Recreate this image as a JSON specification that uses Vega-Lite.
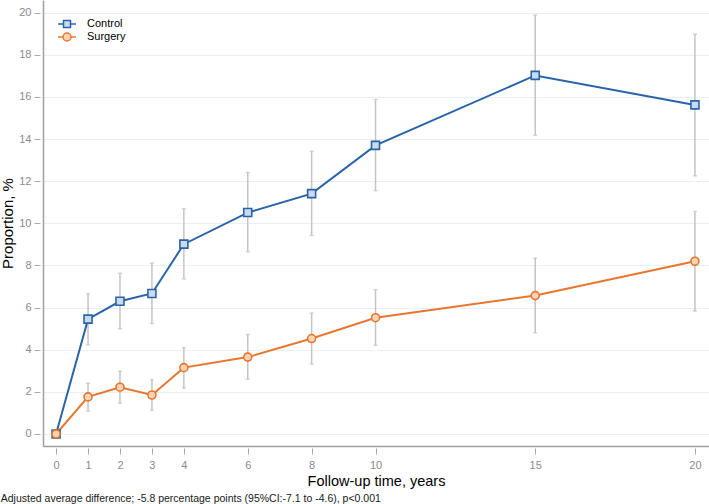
{
  "$schema": "https://vega.github.io/schema/vega-lite/v6.json",
  "width": 666,
  "height": 446,
  "autosize": {"type": "none"},
  "padding": {"left": 43, "top": 0, "right": 0, "bottom": 58},
  "background": "#ffffff",
  "title": {
    "text": "Adjusted average difference; -5.8 percentage points (95%CI:-7.1 to -4.6), p<0.001",
    "orient": "bottom",
    "anchor": "start",
    "frame": "bounds",
    "offset": 6,
    "fontSize": 10.5,
    "fontWeight": "normal",
    "color": "#1a1a1a",
    "font": "Liberation Sans"
  },
  "config": {
    "font": "Liberation Sans",
    "view": {"stroke": null},
    "axis": {
      "labelFont": "Liberation Sans",
      "titleFont": "Liberation Sans",
      "labelColor": "#8a8a8a",
      "labelFontSize": 11,
      "tickColor": "#a8a8a8",
      "tickWidth": 1,
      "domainColor": "#a0a0a0",
      "domainWidth": 1.5,
      "gridColor": "#e8f0f2",
      "gridWidth": 1,
      "titleColor": "#000000",
      "titleFontWeight": "normal"
    },
    "legend": {
      "padding": 0,
      "labelFont": "Liberation Sans",
      "labelFontSize": 11,
      "labelColor": "#000000",
      "symbolSize": 100,
      "symbolStrokeWidth": 1.5,
      "labelOffset": 14,
      "rowPadding": -2
    }
  },
  "data": {
    "values": [
      {"group": "Control", "year": 0, "pct": 0, "lo": null, "hi": null},
      {"group": "Control", "year": 1, "pct": 5.45, "lo": 4.24, "hi": 6.66},
      {"group": "Control", "year": 2, "pct": 6.30, "lo": 4.99, "hi": 7.63},
      {"group": "Control", "year": 3, "pct": 6.67, "lo": 5.24, "hi": 8.11},
      {"group": "Control", "year": 4, "pct": 9.01, "lo": 7.36, "hi": 10.69},
      {"group": "Control", "year": 6, "pct": 10.51, "lo": 8.65, "hi": 12.41},
      {"group": "Control", "year": 8, "pct": 11.41, "lo": 9.42, "hi": 13.42},
      {"group": "Control", "year": 10, "pct": 13.70, "lo": 11.55, "hi": 15.88},
      {"group": "Control", "year": 15, "pct": 17.02, "lo": 14.18, "hi": 19.88},
      {"group": "Control", "year": 20, "pct": 15.62, "lo": 12.25, "hi": 18.98},
      {"group": "Surgery", "year": 0, "pct": 0, "lo": null, "hi": null},
      {"group": "Surgery", "year": 1, "pct": 1.76, "lo": 1.09, "hi": 2.41},
      {"group": "Surgery", "year": 2, "pct": 2.22, "lo": 1.46, "hi": 2.98},
      {"group": "Surgery", "year": 3, "pct": 1.85, "lo": 1.13, "hi": 2.58},
      {"group": "Surgery", "year": 4, "pct": 3.15, "lo": 2.18, "hi": 4.10},
      {"group": "Surgery", "year": 6, "pct": 3.65, "lo": 2.60, "hi": 4.72},
      {"group": "Surgery", "year": 8, "pct": 4.53, "lo": 3.32, "hi": 5.74},
      {"group": "Surgery", "year": 10, "pct": 5.52, "lo": 4.21, "hi": 6.85},
      {"group": "Surgery", "year": 15, "pct": 6.57, "lo": 4.80, "hi": 8.35},
      {"group": "Surgery", "year": 20, "pct": 8.20, "lo": 5.84, "hi": 10.56}
    ]
  },
  "resolve": {"axis": {"x": "independent", "y": "independent"}},
  "layer": [
    {
      "mark": {
        "type": "errorbar",
        "color": "#c4c4c4",
        "thickness": 1.5,
        "ticks": {"size": 4, "thickness": 1.5, "color": "#c4c4c4"}
      },
      "encoding": {
        "x": {
          "field": "year", "type": "quantitative",
          "scale": {"domain": [-0.41, 20.44], "nice": false, "zero": false},
          "axis": {"orient": "bottom", "title": null, "labels": false, "ticks": false, "grid": false, "domain": true}
        },
        "y": {
          "field": "lo", "type": "quantitative",
          "scale": {"domain": [-0.57, 20.6], "nice": false, "zero": false},
          "axis": {"orient": "left", "title": null, "labels": false, "ticks": false, "grid": true, "domain": true, "values": [0, 2, 4, 6, 8, 10, 12, 14, 16, 18, 20]}
        },
        "y2": {"field": "hi"},
        "detail": {"field": "group", "type": "nominal"}
      }
    },
    {
      "mark": {"type": "line", "strokeWidth": 2},
      "encoding": {
        "x": {
          "field": "year", "type": "quantitative",
          "axis": {
            "orient": "bottom", "domain": false, "grid": false, "offset": 2,
            "values": [0, 1, 2, 3, 4, 6, 8, 10, 15, 20],
            "tickSize": 6, "labelPadding": 5,
            "title": "Follow-up time, years", "titleFontSize": 14.5, "titlePadding": 4
          }
        },
        "y": {
          "field": "pct", "type": "quantitative",
          "axis": {
            "orient": "left", "domain": false, "grid": false, "offset": 3,
            "values": [0, 2, 4, 6, 8, 10, 12, 14, 16, 18, 20],
            "tickSize": 6, "labelPadding": 3,
            "title": "Proportion, %", "titleFontSize": 15, "titlePadding": 3
          }
        },
        "color": {
          "field": "group", "type": "nominal",
          "scale": {"range": ["#2a64a8", "#e8762e"]},
          "legend": {
            "title": null,
            "orient": "none",
            "legendX": 18,
            "legendY": 18,
            "symbolSize": 100,
            "rowPadding": -2,
            "encode": {
              "symbols": {
                "update": {
                  "shape": {"signal": "datum.value === 'Control' ? 'M-1.8,0H-0.7M0.7,0H1.8M-0.7,-0.7H0.7V0.7H-0.7Z' : 'M-1.8,0H-0.8M0.8,0H1.8M0.8,0A0.8,0.8 0 1,1 -0.8,0A0.8,0.8 0 1,1 0.8,0Z'"},
                  "fill": {"signal": "datum.value === 'Control' ? '#c8dbef' : '#fcd3b3'"},
                  "stroke": {"signal": "datum.value === 'Control' ? '#2a64a8' : '#e8762e'"},
                  "strokeWidth": {"value": 1.5},
                  "opacity": {"value": 1}
                }
              }
            }
          }
        }
      }
    },
    {
      "mark": {"type": "point", "filled": false, "strokeWidth": 1.6, "opacity": 1},
      "encoding": {
        "x": {"field": "year", "type": "quantitative", "axis": null},
        "y": {"field": "pct", "type": "quantitative", "axis": null},
        "stroke": {
          "field": "group", "type": "nominal",
          "scale": {"domain": ["Control", "Surgery"], "range": ["#2a64a8", "#e8762e"]},
          "legend": null
        },
        "fill": {
          "field": "group", "type": "nominal",
          "scale": {"domain": ["Control", "Surgery"], "range": ["#c8dbef", "#fcd3b3"]},
          "legend": null
        },
        "shape": {
          "field": "group", "type": "nominal",
          "scale": {"domain": ["Control", "Surgery"], "range": ["square", "circle"]},
          "legend": null
        },
        "size": {"value": 64}
      }
    }
  ]
}
